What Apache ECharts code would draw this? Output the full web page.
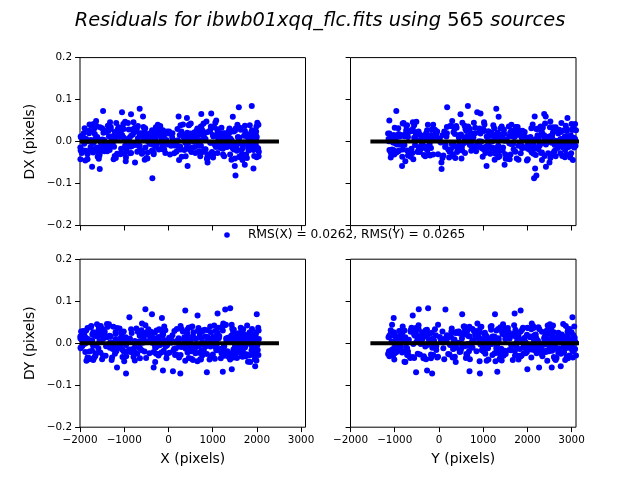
<!DOCTYPE html>
<html>
<head>
<meta charset="utf-8">
<script src="https://cdn.jsdelivr.net/npm/echarts@6/dist/echarts.min.js"></script>
<style>
  html, body { margin: 0; padding: 0; background: #fff; }
  #main { width: 640px; height: 480px; }
</style>
</head>
<body>
<div id="main"></div>
<script>
// per-source positions and residuals
// (two blocks of main-cloud sources, then the visible outliers)
const srcX = [
  -1985, 1420, -312, 760, -1540, 205, 1890, -880, 35, 1275,
  -1720, 640, -95, 1985, -1305, 420, -645, 1110, -1880, 890,
  -430, 1660, -1150, 2030, 150, -1610, 985, -760, 1540, -240,
  -1930, 510, 1320, -1040, 1805, -520, 300, -1455, 1730, 60,
  -1260, 820, -185, 1465, -1795, 1020, -690, 1955, -370, 575,
  -1575, 1180, -25, 1615, -955, 345, 1850, -1695, 715, -590,
  1390, -1375, 255, 1940, -820, 1075, -1860, 460, -135, 1570,
  -1090, 930, -455, 2010, -1640, 610, 1240, -285, 1775, -1195,
  110, -1960, 1505, -725, 860, -1420, 380, 1695, -60, 1140,
  -1745, 690, -545, 1915, -1010, 240, 1345, -1525, 795, -215,
  1830, -1325, 505, -870, 1595, -1895, 1050, -395, 1260, 15,
  -1480, 1960, -610, 745, -1230, 1430, -160, 925, -1665, 1710,
  330, -1070, 1165, -1815, 555, -475, 1875, -935, 190, 1520,
  -1385, 1005, -260, 1635, -1585, 430, -790, 1305, -1915, 665,
  -335, 1780, -1130, 840, -45, 1995, -1710, 1085, -580, 275,
  1455, -1285, 710, -1000, 1925, -665, 1200, -1830, 395, -120,
  1645, -1440, 965, -415, 1755, -1180, 540, -1950, 1375, -705,
  85, 1550, -1625, 810, -1045, 2040, -300, 1125, -1500, 625,
  -845, 1285, -1760, 470, 1840, -225, 1010, -1345, 1680, -525,
  170, -1905, 1475, -980, 735, -1555, 1905, -80, 1215, -1215,
  // second block
  -1992, -1210, 455, 1605, -70, 1880, -1515, 720, -895, 1345,
  -1650, 275, 1730, -420, 1095, -1830, 565, -245, 1470, -1105,
  2045, -760, 135, 1260, -1390, 870, -1950, 390, 1815, -565,
  -1285, 1150, -30, 1690, -1015, 505, -1765, 1410, -335, 950,
  -1600, 1975, -180, 655, -1445, 1230, 20, -870, 1560, -1160,
  800, -1905, 1365, -495, 215, 1785, -1330, 1035, -650, 1895,
  -1705, 425, 1185, -915, 1640, -105, -1560, 765, -1245, 1510,
  -385, 1990, -1870, 325, 1065, -715, 1425, -1495, 590, -140,
  1750, -1060, 1300, -1785, 480, -505, 1865, -1355, 885, -270,
  1580, -1670, 180, 1125, -980, 2020, -615, 1395, -1940, 690,
  -210, 1620, -1195, 945, -1420, 360, 1840, -830, 1210, -1725,
  520, -445, 1505, -1100, 1975, -35, -1615, 840, -1305, 1680,
  -560, 245, 1445, -1880, 1015, -690, 1800, -1470, 610, -160,
  1335, -1020, 1925, -1755, 390, -805, 1110, -1275, 1710, -365,
  -1545, 735, 1960, -960, 295, 1525, -1820, 1060, -600, 1270,
  -1410, 90, 1655, -1135, 960, -1985, 455, -280, 1890, -1240,
  780, -1690, 1380, -470, 1170, -1530, 2035, -760, 555, -1080,
  1600, -1855, 230, -540, 1480, -1320, 985, -1975, 1745, -220,
  -1635, 680, 1235, -905, 1955, -1190, 420, 1090, -1500, 1550,
  -650, 1830, -1370, 130, 1310, -845, 1675, -1795, 600, -310,
  // DX outliers
  -1478, -650, -363, -1050, -846, -575, 1592, 1885, 1517, 1923,
  1727, 1501, 885, 433, 230, 418, 743, 968, 1081, 1456,
  -1727, -1553, -966, -756, -537, -1636, -1990, 1984,
  // DY outliers
  1397, -521, 1284, 381, 1111, -372, 1998, 659, -883, -147,
  -598, -959, 269, 869, 1230, 102, -124, 1433, -1163, -334,
  1962, -1700, -300, 1700
];
const srcY = [
  2850, -540, 1320, 410, -980, 2240, 760, 3050, -130, 1780,
  560, 2610, -820, 1490, 180, 2960, -350, 1050, 2380, -1090,
  1920, 330, 2720, -620, 1210, 2070, -200, 3120, 890, 1640,
  -900, 2490, 40, 1390, 2810, -460, 990, 2160, 620, 3090,
  -1040, 1730, 250, 2550, -290, 1160, 2910, 470, -740, 2020,
  1560, -60, 2680, 820, -1120, 1870, 380, 3000, -410, 1270,
  2330, 690, -860, 2790, 1010, 140, 2440, -560, 1690, 2990,
  -240, 1120, 2270, 530, -1010, 1960, 870, 2640, 80, 1430,
  3140, -680, 1830, 290, 2520, -370, 1080, 2190, 720, -950,
  2870, 1360, -110, 2090, 600, 3030, -790, 1590, 2400, 210,
  -520, 1930, 940, 2750, -1070, 1250, 2620, 450, -310, 1800,
  2950, 780, -640, 2300, 1150, -20, 2830, 1500, 360, -880,
  2120, 1040, 3080, -430, 1670, 510, 2580, -1130, 1340, 2240,
  840, -180, 2700, 1470, 100, 1990, -590, 2930, 1190, 640,
  -960, 2460, 1750, 270, -330, 2850, 1020, 2150, 490, -720,
  1880, 3110, -70, 1280, 2560, 750, -1000, 2010, 1410, 2780,
  -260, 920, 2340, 170, 1620, -800, 3060, 580, 1940, -480,
  1100, 2660, 390, -1060, 2230, 1540, -150, 2900, 700, 1310,
  -600, 2420, 1060, 3150, -380, 1720, 230, 2510, 970, -920,
  2050, 1440, -40, 2740, 660, 1850, -700, 2990, 1170, 320,
  // second block
  1210, 2760, -380, 1950, 590, -910, 2430, 1370, -130, 3070,
  640, 2130, -740, 1680, 2980, 310, -1020, 1890, 1040, 2540,
  -480, 2350, 860, -60, 2810, 1510, -970, 2070, 430, 1780,
  2640, -290, 1120, 2920, 680, -820, 2250, 1460, 150, 3010,
  -640, 1830, 2480, 920, -1100, 1300, 2700, 520, -250, 2140,
  1590, -860, 2890, 370, 1960, -430, 1070, 2580, 760, -1140,
  2330, 1180, -180, 2770, 470, 1720, -700, 3100, 960, 2010,
  -560, 1420, 2620, 80, -950, 2200, 1260, 2950, 330, -420,
  1850, 2470, -1060, 1030, 2860, 610, -210, 1640, 2390, -780,
  1110, 3040, 240, 1900, -510, 2690, 820, -1010, 1530, 2280,
  -90, 1340, 2840, 560, -680, 2060, 1230, -330, 2560, 910,
  3130, -870, 1760, 400, 2420, -1150, 1450, 2190, 700, -20,
  2730, 1010, -600, 1990, 2900, 280, -780, 1610, 2310, -300,
  850, 3080, -1040, 1390, 2640, 500, -160, 2090, 1160, -920,
  2510, 1800, 20, 2970, -460, 1290, 2150, 790, -1080, 1700,
  2820, 180, -340, 2380, 1580, -720, 2000, 1050, 2680, -580,
  1480, 2920, 350, -1000, 2240, 1190, -130, 2760, 660, 1910,
  -830, 2450, 1350, 3030, -270, 1020, 2600, 450, -990, 1740,
  2210, -520, 2870, 1260, 120, 2520, -890, 1630, 2090, 730,
  -1120, 1870, 580, 2990, -410, 1400, 2330, -650, 940, 2700,
  // DX outliers
  -964, 1297, 2152, 866, 488, 2415, 186, 655, 2204, 2175,
  1485, 1077, 57, -834, 2166, 2907, 2380, 940, -1122, 1350,
  2420, 60, -760, 2500, 1800, 300, 1600, 2600,
  // DY outliers
  -245, -456, 147, 1848, 1712, 526, 1268, -592, 3020, -1023,
  2100, -154, 927, -517, 1320, 692, -268, 2000, 2265, 2551,
  2755, 2855, -760, -1039
];
const resDX = [
  0.012, -0.008, 0.021, -0.025, 0.004, 0.030, -0.015, 0.009, -0.031, 0.017,
  -0.004, 0.026, -0.019, 0.002, 0.035, -0.011, 0.014, -0.027, 0.006, -0.038,
  0.019, -0.006, 0.028, -0.017, 0.001, 0.011, -0.033, 0.023, -0.009, 0.040,
  -0.021, 0.007, -0.002, 0.031, -0.014, 0.018, -0.036, 0.004, 0.025, -0.010,
  0.013, -0.024, 0.037, -0.003, 0.020, -0.029, 0.008, -0.016, 0.027, 0.000,
  -0.041, 0.015, -0.007, 0.033, -0.020, 0.010, -0.012, 0.042, 0.003, -0.026,
  0.022, -0.005, 0.016, -0.034, 0.029, -0.013, 0.006, 0.039, -0.018, 0.011,
  -0.030, 0.024, -0.001, 0.045, -0.022, 0.008, -0.009, 0.034, -0.039, 0.017,
  0.002, -0.027, 0.026, -0.006, 0.048, -0.015, 0.012, -0.032, 0.020, -0.003,
  0.038, -0.023, 0.007, -0.011, 0.030, -0.044, 0.014, -0.004, 0.043, -0.019,
  0.005, -0.014, 0.019, -0.028, 0.009, 0.032, -0.008, 0.015, -0.035, 0.024,
  -0.002, 0.010, -0.021, 0.036, -0.012, 0.003, 0.027, -0.030, 0.018, -0.007,
  0.041, -0.017, 0.006, -0.025, 0.013, -0.040, 0.022, 0.001, -0.010, 0.031,
  -0.023, 0.016, -0.005, 0.028, -0.033, 0.009, 0.046, -0.013, 0.020, -0.001,
  -0.026, 0.011, 0.034, -0.018, 0.004, -0.037, 0.025, -0.009, 0.014, 0.039,
  -0.016, 0.002, 0.021, -0.029, 0.008, -0.011, 0.033, -0.042, 0.017, 0.005,
  -0.020, 0.026, -0.003, 0.012, -0.031, 0.044, -0.014, 0.007, 0.023, -0.024,
  0.010, -0.006, 0.037, -0.019, 0.015, -0.035, 0.003, 0.029, -0.008, 0.018,
  -0.027, 0.006, -0.013, 0.040, -0.002, 0.021, -0.038, 0.013, -0.016, 0.032,
  0.001, -0.022, 0.024, -0.010, 0.036, -0.028, 0.011, -0.004, 0.019, -0.034,
  // second block
  -0.014, 0.023, -0.002, 0.009, -0.027, 0.018, 0.004, -0.035, 0.029, -0.011,
  0.007, -0.019, 0.038, -0.006, 0.015, -0.030, 0.001, 0.026, -0.016, 0.011,
  -0.024, 0.033, -0.009, 0.020, -0.003, -0.041, 0.014, 0.006, -0.021, 0.035,
  0.002, -0.013, 0.024, -0.032, 0.010, 0.043, -0.018, 0.005, -0.008, 0.028,
  -0.036, 0.016, -0.001, 0.031, -0.023, 0.008, 0.019, -0.012, 0.040, -0.029,
  0.013, -0.005, 0.025, -0.039, 0.003, 0.017, -0.020, 0.034, -0.010, 0.006,
  -0.026, 0.021, -0.015, 0.044, -0.004, 0.012, -0.033, 0.027, 0.000, -0.017,
  0.009, 0.036, -0.022, 0.015, -0.007, 0.030, -0.043, 0.005, 0.022, -0.012,
  0.018, -0.028, 0.002, 0.041, -0.019, 0.011, -0.006, 0.026, -0.034, 0.013,
  -0.001, 0.032, -0.024, 0.007, 0.047, -0.015, 0.020, -0.031, 0.004, -0.009,
  0.028, -0.037, 0.010, -0.003, 0.023, -0.020, 0.039, -0.011, 0.016, 0.001,
  -0.025, 0.014, -0.040, 0.033, -0.007, 0.019, -0.014, 0.006, 0.030, -0.030,
  0.003, -0.018, 0.025, -0.045, 0.012, 0.037, -0.008, 0.021, -0.027, 0.008,
  -0.012, 0.042, -0.020, 0.004, -0.035, 0.017, 0.029, -0.003, 0.014, -0.023,
  0.034, -0.010, 0.007, -0.038, 0.024, -0.016, 0.001, 0.045, -0.029, 0.011,
  -0.005, 0.020, -0.032, 0.015, 0.036, -0.021, 0.009, -0.013, 0.027, -0.042,
  0.018, -0.002, 0.031, -0.026, 0.006, -0.017, 0.040, -0.008, 0.013, 0.022,
  -0.036, 0.003, -0.011, 0.028, -0.019, 0.046, -0.025, 0.010, -0.004, 0.035,
  -0.015, 0.016, -0.031, 0.007, 0.024, -0.039, 0.012, -0.006, 0.032, -0.022,
  0.019, -0.010, 0.038, -0.028, 0.005, 0.014, -0.044, 0.026, -0.013, 0.002,
  // DX outliers
  0.073, 0.078, -0.087, 0.070, 0.065, 0.060, 0.082, 0.085, -0.081, -0.064,
  -0.055, -0.058, -0.050, -0.058, 0.060, 0.056, 0.066, 0.067, 0.050, 0.059,
  -0.060, -0.065, -0.047, -0.050, -0.043, 0.049, -0.042, 0.024,
  // DY outliers
  0.008, -0.014, 0.019, -0.003, 0.025, -0.021, 0.011, 0.030, -0.007, 0.016,
  -0.026, 0.004, -0.012, 0.022, -0.017, 0.001, 0.027, -0.009, 0.013, -0.030,
  0.006, -0.019, 0.018, -0.002
];
const resDY = [
  -0.010, 0.018, -0.003, 0.027, -0.022, 0.006, 0.034, -0.015, 0.011, -0.030,
  0.021, -0.007, 0.040, -0.018, 0.002, 0.025, -0.036, 0.013, -0.001, 0.031,
  -0.024, 0.008, -0.012, 0.037, -0.028, 0.016, 0.004, -0.041, 0.022, -0.006,
  0.029, -0.019, 0.010, -0.033, 0.015, 0.043, -0.009, 0.019, -0.026, 0.001,
  -0.014, 0.032, -0.004, 0.024, -0.038, 0.012, 0.028, -0.021, 0.007, -0.011,
  0.036, -0.016, 0.003, 0.020, -0.031, 0.009, -0.045, 0.026, -0.002, 0.014,
  -0.027, 0.039, -0.008, 0.017, -0.020, 0.005, 0.030, -0.035, 0.023, -0.013,
  0.011, -0.039, 0.033, -0.005, 0.018, -0.024, 0.047, -0.010, 0.002, 0.026,
  -0.018, 0.008, -0.030, 0.035, -0.001, 0.015, -0.042, 0.021, -0.007, 0.012,
  0.041, -0.023, 0.006, -0.015, 0.028, -0.034, 0.010, 0.019, -0.003, -0.026,
  0.024, -0.011, 0.038, -0.020, 0.004, 0.016, -0.037, 0.027, -0.008, 0.013,
  -0.029, 0.007, 0.031, -0.017, 0.001, 0.044, -0.022, 0.010, -0.032, 0.018,
  -0.005, 0.025, -0.014, 0.003, -0.040, 0.022, 0.009, -0.019, 0.034, -0.009,
  0.014, -0.027, 0.005, 0.037, -0.012, 0.020, -0.033, 0.011, -0.002, 0.029,
  -0.021, 0.042, -0.006, 0.016, -0.036, 0.008, 0.023, -0.016, 0.001, -0.028,
  0.032, -0.010, 0.019, -0.043, 0.012, 0.004, -0.024, 0.036, -0.013, 0.021,
  -0.004, 0.027, -0.031, 0.009, 0.017, -0.019, 0.040, -0.007, 0.013, -0.025,
  0.006, -0.035, 0.024, 0.002, -0.015, 0.030, -0.011, 0.018, -0.038, 0.010,
  0.033, -0.021, 0.005, -0.008, 0.026, -0.029, 0.015, 0.045, -0.017, 0.003,
  -0.012, 0.022, -0.034, 0.011, -0.002, 0.028, -0.020, 0.007, 0.039, -0.014,
  // second block
  0.016, -0.025, 0.008, -0.004, 0.031, -0.017, 0.022, -0.038, 0.003, 0.013,
  -0.029, 0.041, -0.010, 0.019, -0.002, -0.034, 0.026, 0.006, -0.015, 0.035,
  0.010, -0.021, 0.029, -0.007, 0.046, -0.026, 0.014, -0.012, 0.001, 0.024,
  -0.040, 0.017, -0.005, 0.033, -0.019, 0.009, 0.038, -0.030, 0.012, -0.008,
  0.027, -0.014, 0.004, -0.043, 0.021, 0.030, -0.023, 0.011, -0.001, 0.036,
  -0.016, 0.007, -0.033, 0.025, 0.002, -0.027, 0.018, 0.042, -0.011, 0.014,
  -0.006, 0.032, -0.036, 0.010, 0.023, -0.018, 0.005, -0.029, 0.039, -0.003,
  0.020, -0.041, 0.013, 0.028, -0.009, 0.001, -0.024, 0.034, -0.013, 0.017,
  -0.031, 0.008, 0.044, -0.020, 0.006, -0.035, 0.023, -0.004, 0.015, 0.030,
  -0.012, 0.019, -0.027, 0.037, 0.003, -0.016, 0.026, -0.039, 0.011, -0.006,
  0.033, -0.022, 0.009, 0.040, -0.030, 0.014, -0.001, 0.024, -0.018, 0.007,
  -0.037, 0.029, 0.002, -0.011, 0.021, -0.026, 0.045, -0.008, 0.016, -0.032,
  0.012, -0.003, 0.035, -0.021, 0.006, 0.027, -0.044, 0.018, -0.010, 0.031,
  -0.019, 0.004, -0.028, 0.038, 0.011, -0.014, 0.025, -0.034, 0.008, 0.001,
  0.022, -0.039, 0.015, -0.005, 0.034, -0.023, 0.010, 0.029, -0.017, 0.043,
  -0.007, 0.019, -0.031, 0.003, 0.026, -0.012, 0.037, -0.025, 0.013, -0.002,
  0.030, -0.036, 0.009, 0.020, -0.015, 0.041, -0.028, 0.005, 0.017, -0.009,
  0.024, -0.042, 0.012, -0.020, 0.032, 0.001, -0.033, 0.028, -0.006, 0.015,
  -0.024, 0.036, -0.012, 0.007, -0.038, 0.022, 0.010, -0.017, 0.033, -0.003,
  0.018, -0.029, 0.040, -0.013, 0.004, -0.021, 0.027, -0.035, 0.011, 0.025,
  // DX outliers
  0.010, -0.012, 0.005, 0.018, -0.020, 0.008, 0.015, -0.006, 0.012, -0.015,
  0.020, -0.010, 0.004, -0.022, 0.010, -0.008, 0.012, -0.003, 0.016, 0.007,
  -0.018, 0.003, 0.014, -0.009, 0.021, -0.005, 0.011, 0.026,
  // DY outliers
  0.083, 0.081, 0.080, 0.078, 0.071, 0.069, 0.069, 0.066, 0.062, 0.060,
  0.047, -0.072, -0.072, -0.069, -0.068, -0.067, -0.065, -0.062, -0.058, -0.058,
  -0.055, -0.040, -0.045, -0.028
];

// zero reference lines, start and end in data units
const zeroLineX = [-2000, 2500];
const zeroLineY = [-1550, 3500];

const xTicks = [-2000, -1000, 0, 1000, 2000, 3000];
const rmsText = 'RMS(X) = 0.0262, RMS(Y) = 0.0265';

function pairs(a, b) {
  const n = Math.min(a.length, b.length);
  let out = [];
  for (let i = 0; i < n; i++) out.push([a[i], b[i]]);
  return out;
}

const FONT = 'DejaVu Sans';
const minus = function (s) { return String(s).replace('-', '\u2212'); };

// grid boxes like matplotlib's default 2x2 subplots
const boxes = [
  { left: 80, top: 57.6 },
  { left: 350.5, top: 57.6 },
  { left: 80, top: 259.2 },
  { left: 350.5, top: 259.2 }
];

let grids = [], xAxes = [], yAxes = [], series = [];
boxes.forEach(function (b, i) {
  const isLeft = (i % 2 === 0);
  const isBottom = (i >= 2);
  grids.push({
    left: b.left, top: b.top, width: 225.5, height: 168,
    show: true, borderColor: '#000', borderWidth: 1, backgroundColor: '#fff'
  });
  xAxes.push({
    type: 'value', gridIndex: i, min: -2000, max: 3100,
    name: isBottom ? (isLeft ? 'X (pixels)' : 'Y (pixels)') : '',
    nameLocation: 'middle', nameGap: 25,
    nameTextStyle: { color: '#000', fontSize: 13.9, fontFamily: FONT },
    axisLine: { show: false, onZero: false },
    splitLine: { show: false },
    axisTick: { show: true, inside: false, length: 4.9, customValues: xTicks,
      lineStyle: { color: '#000', width: 1 } },
    axisLabel: { show: isBottom, customValues: xTicks, margin: 8,
      color: '#000', fontSize: 10.4, fontFamily: FONT, formatter: minus }
  });
  yAxes.push({
    type: 'value', gridIndex: i, min: -0.2, max: 0.2, interval: 0.1,
    name: isLeft ? (isBottom ? 'DY (pixels)' : 'DX (pixels)') : '',
    nameLocation: 'middle', nameGap: 43, nameRotate: 90,
    nameTextStyle: { color: '#000', fontSize: 13.9, fontFamily: FONT },
    axisLine: { show: false, onZero: false },
    splitLine: { show: false },
    axisTick: { show: true, inside: false, length: 4.9,
      lineStyle: { color: '#000', width: 1 } },
    axisLabel: { show: isLeft, margin: 8, color: '#000', fontSize: 10.4, fontFamily: FONT,
      formatter: function (v) { return minus(v.toFixed(1)); } }
  });
  const coord = isLeft ? srcX : srcY;
  const res = isBottom ? resDY : resDX;
  series.push({
    type: 'scatter', xAxisIndex: i, yAxisIndex: i,
    data: pairs(coord, res),
    symbol: 'circle', symbolSize: 6,
    itemStyle: { color: '#0000ff', opacity: 1 },
    silent: true, animation: false, z: 2
  });
  const zl = isLeft ? zeroLineX : zeroLineY;
  series.push({
    type: 'line', xAxisIndex: i, yAxisIndex: i,
    data: [[zl[0], 0], [zl[1], 0]],
    symbol: 'none', lineStyle: { color: '#000', width: 4 },
    silent: true, animation: false, z: 3
  });
});

const chart = echarts.init(document.getElementById('main'), null, { renderer: 'canvas' });
chart.setOption({
  backgroundColor: '#fff',
  animation: false,
  title: {
    text: '{i|Residuals for ibwb01xqq_flc.fits using }{n|565}{i| sources}',
    left: 'center', top: 6,
    textStyle: {
      fontWeight: 'normal',
      rich: {
        i: { fontStyle: 'italic', fontWeight: 'normal', fontSize: 19.4, fontFamily: FONT, color: '#000' },
        n: { fontWeight: 'normal', fontSize: 19.4, fontFamily: FONT, color: '#000' }
      }
    }
  },
  grid: grids,
  xAxis: xAxes,
  yAxis: yAxes,
  series: series,
  graphic: [
    { type: 'circle', shape: { cx: 227, cy: 235, r: 2.8 }, style: { fill: '#0000ff' }, silent: true },
    { type: 'text', x: 248, y: 235, silent: true,
      style: { text: rmsText, fill: '#000', font: '12.2px "DejaVu Sans"', verticalAlign: 'middle' } }
  ]
});
</script>
</body>
</html>
